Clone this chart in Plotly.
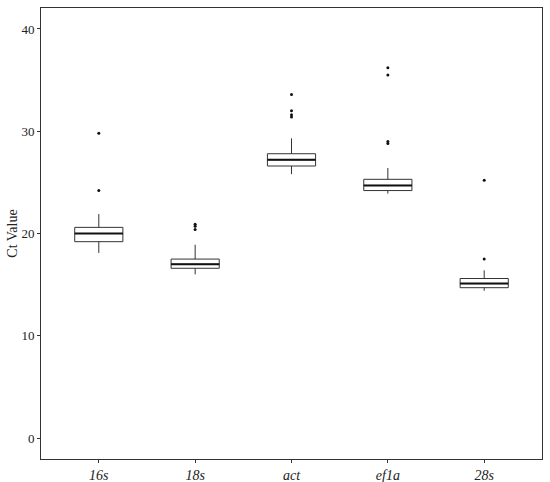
import numpy as np
import plotly.graph_objects as go

genes = ["16s", "18s", "act", "ef1a", "28s"]
q1 = [19.2, 16.6, 26.6, 24.2, 14.7]
median = [20.0, 17.0, 27.2, 24.7, 15.1]
q3 = [20.6, 17.5, 27.8, 25.3, 15.6]
lower_whisker = [18.1, 16.0, 25.8, 23.9, 14.4]
upper_whisker = [21.9, 18.9, 29.3, 26.4, 16.4]
outliers = {
    "16s": [29.8, 24.2],
    "18s": [20.9, 20.7, 20.4],
    "act": [33.6, 32.0, 31.6, 31.4],
    "ef1a": [36.2, 35.5, 29.0, 28.8],
    "28s": [25.2, 17.5],
}
y_ticks = [0, 10, 20, 30, 40]

pos = np.arange(1, len(genes) + 1)
box_w = 0.5
line_col = "#333333"
font_family = "Liberation Serif, Times New Roman, serif"

fig = go.Figure()
fig.add_trace(go.Box(
    x=pos, q1=q1, median=median, q3=q3,
    lowerfence=lower_whisker, upperfence=upper_whisker,
    width=box_w, whiskerwidth=0,
    fillcolor="white", line=dict(color=line_col, width=1),
    boxpoints=False, showlegend=False, hoverinfo="skip",
))

# thicker median lines (ggplot style)
mx, my = [], []
for p, m in zip(pos, median):
    mx += [p - box_w / 2, p + box_w / 2, None]
    my += [m, m, None]
fig.add_trace(go.Scatter(x=mx, y=my, mode="lines",
                         line=dict(color="#111111", width=2),
                         showlegend=False, hoverinfo="skip"))

ox, oy = [], []
for p, g in zip(pos, genes):
    for v in outliers[g]:
        ox.append(p)
        oy.append(v)
fig.add_trace(go.Scatter(x=ox, y=oy, mode="markers",
                         marker=dict(color="#111111", size=3),
                         showlegend=False, hoverinfo="skip"))

fig.update_layout(
    width=550, height=482,
    margin=dict(l=41, r=8, t=8, b=23),
    paper_bgcolor="white", plot_bgcolor="white",
    font=dict(family=font_family, color="#222222"),
)
fig.update_xaxes(
    range=[0.4, 5.6], tickvals=pos, ticktext=genes,
    tickfont=dict(size=14, style="italic", color="#222222"),
    ticks="outside", ticklen=3, tickcolor=line_col,
    showgrid=False, zeroline=False, automargin=False,
    showline=True, linecolor=line_col, linewidth=1, mirror=True,
)
fig.update_yaxes(
    range=[-2.05, 42.05], tickvals=y_ticks,
    tickfont=dict(size=13, color="#222222"),
    ticks="outside", ticklen=3, tickcolor=line_col,
    showgrid=False, zeroline=False, automargin=False,
    showline=True, linecolor=line_col, linewidth=1, mirror=True,
    title=dict(text="Ct Value", font=dict(size=14), standoff=0),
)
fig.write_html(
    "out.html",
    config={"displayModeBar": False},
    post_script="document.body.style.margin='0';document.body.style.overflow='hidden';",
)
